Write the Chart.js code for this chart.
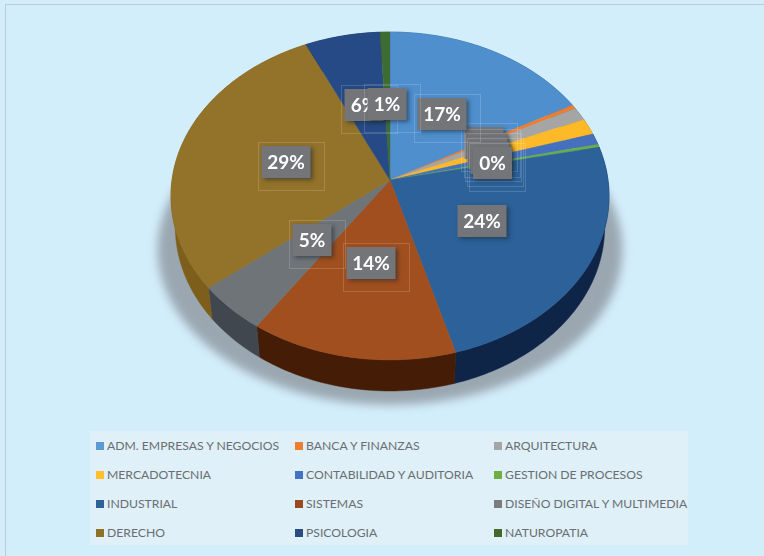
<!DOCTYPE html>
<html>
<head>
<meta charset="utf-8">
<script src="https://cdn.jsdelivr.net/npm/chart.js@4/dist/chart.umd.min.js"></script>
<style>
html,body{margin:0;padding:0;width:764px;height:556px;overflow:hidden;background:#d3eefb}
#frame{position:absolute;left:5px;top:4px;right:0;bottom:0;border-left:1px solid #c4cbd0;border-top:1px solid #c4cbd0}
canvas{position:absolute;left:0;top:0}
#legend{position:absolute;left:90px;top:431px;width:598px;height:114px;background:#dff0f8;font:12.2px Lato,sans-serif;color:#6a6e72}
#legend div{position:absolute;white-space:nowrap;line-height:16px}
#legend i{position:absolute;left:-11px;top:4px;width:8px;height:8px}
</style>
</head>
<body>
<div id="frame"></div>
<div style="position:absolute;left:0;top:0;width:764px;height:556px"><canvas id="c" width="764" height="556"></canvas></div>
<div id="legend"></div>
<script>
const categories = ["ADM. EMPRESAS Y NEGOCIOS","BANCA Y FINANZAS","ARQUITECTURA","MERCADOTECNIA","CONTABILIDAD Y AUDITORIA","GESTION DE PROCESOS","INDUSTRIAL","SISTEMAS","DISEÑO DIGITAL Y MULTIMEDIA","DERECHO","PSICOLOGIA","NATUROPATIA"];
const values = [17.0,0.4,1.3,1.6,1.1,0.3,23.9,13.9,4.8,28.8,6.1,0.8];
const valueLabels = ["17%","0%","0%","0%","0%","0%","24%","14%","5%","29%","6%","1%"];
const topColors = ["#4f8fcd","#ed7d31","#a5a5a5","#fdb927","#4470bd","#66ad4f","#2c6199","#a14f1f","#6f7479","#93722a","#264a85","#3f6b35"];
const swatchColors = ["#5b9bd5","#ed7d31","#a5a5a5","#ffc02a","#4472c4","#70ad47","#2d6498","#9a4a20","#7b7b7d","#8f7027","#2a4a80","#43682b"];
const wallColors = ["#2d5a88","#8a4a1c","#666666","#9a7015","#1c3a70","#3a6428","#0f2548","#451c05","#40474f","#7d5e1a","#16294f","#22381c"];

// label placement relative to the pie centre (layout only)
const labelOffsets = [[52,-66],[94,-37],[97,-31],[98,-27],[100,-22],[102.5,-17],[92,41],[-19,83],[-78,60],[-104,-18],[-26,-75],[-3,-76]];

const perspective = 32/328;          // foreshortening of the tilted disc
const rxRatio = 218/148, ryRatio = 162.4/148, depthRatio = 31/148;

function project(arc, theta, shrink){
  const R = arc.outerRadius;
  const u = Math.sin(theta), v = -Math.cos(theta);
  const w = 1 - perspective*v;
  const s = shrink ? 0.98 : 1;
  return {x: arc.x + s*rxRatio*R*u/w, y: arc.y + ryRatio*R*v/w + (shrink ? depthRatio*R : 0)};
}
function edgePoints(arc, a0, a1, shrink){
  const n = Math.max(2, Math.ceil((a1-a0)/0.02)), pts=[];
  for(let i=0;i<=n;i++){ pts.push(project(arc, a0+(a1-a0)*i/n + Math.PI/2, shrink)); }
  return pts;
}
const tiltedPie = {
  id:'tiltedPie',
  beforeDatasetDraw(chart){
    const ctx = chart.ctx, arcs = chart.getDatasetMeta(0).data;
    const R = arcs[0].outerRadius;
    // soft shadow below the disc
    ctx.save();
    ctx.filter = 'blur(5px)';
    ctx.fillStyle = '#9aa7b1';
    ctx.beginPath();
    ctx.ellipse(arcs[0].x, arcs[0].y + 0.47*R, 1.57*R, 1.05*R, 0, 0, Math.PI*2);
    ctx.fill();
    ctx.restore();
    // walls
    arcs.forEach((arc,i)=>{
      const top = edgePoints(arc, arc.startAngle, arc.endAngle, false);
      const low = edgePoints(arc, arc.startAngle, arc.endAngle, true).reverse();
      ctx.fillStyle = wallColors[i]; ctx.strokeStyle = wallColors[i]; ctx.lineWidth = .5;
      ctx.beginPath();
      top.concat(low).forEach((p,k)=> k?ctx.lineTo(p.x,p.y):ctx.moveTo(p.x,p.y));
      ctx.closePath(); ctx.fill(); ctx.stroke();
    });
    // top faces
    arcs.forEach((arc,i)=>{
      const pts = edgePoints(arc, arc.startAngle, arc.endAngle, false);
      ctx.fillStyle = topColors[i]; ctx.strokeStyle = topColors[i]; ctx.lineWidth = .4;
      ctx.beginPath(); ctx.moveTo(arc.x, arc.y);
      pts.forEach(p=>ctx.lineTo(p.x,p.y));
      ctx.closePath(); ctx.fill(); ctx.stroke();
    });
    return false;
  },
  afterDatasetsDraw(chart){
    const ctx = chart.ctx, arcs = chart.getDatasetMeta(0).data;
    const order = [1,2,3,4,5,6,7,8,9,0,10,11];
    ctx.save();
    ctx.textAlign='center'; ctx.textBaseline='middle';
    ctx.font = 'bold 19px Lato, sans-serif';
    order.forEach(i=>{
      const x = arcs[i].x + labelOffsets[i][0], y = arcs[i].y + labelOffsets[i][1];
      const t = valueLabels[i], w = t.length>2 ? 49 : 39, h = 32;
      if(i!==6){
        ctx.strokeStyle='rgba(255,255,255,.16)'; ctx.lineWidth=1;
        ctx.strokeRect(Math.round(x-w/2-4)+.5, Math.round(y-h/2-4)+.5, w+17, h+16);
      }
      ctx.shadowColor='rgba(30,40,50,.55)'; ctx.shadowBlur=4; ctx.shadowOffsetX=2; ctx.shadowOffsetY=2;
      ctx.fillStyle='#747579';
      ctx.fillRect(x-w/2, y-h/2, w, h);
      ctx.shadowColor='transparent'; ctx.shadowBlur=0; ctx.shadowOffsetX=0; ctx.shadowOffsetY=0;
      ctx.fillStyle='#ffffff';
      ctx.fillText(t, x, y+.5);
    });
    ctx.restore();
  }
};

const chart = new Chart(document.getElementById('c'), {
  type:'pie',
  data:{labels:categories, datasets:[{data:values, backgroundColor:topColors, borderWidth:0}]},
  options:{
    responsive:false, animation:false,
    rotation:0,
    layout:{padding:{top:32,bottom:228,left:242,right:226}},
    plugins:{legend:{display:false},tooltip:{enabled:false}}
  },
  plugins:[tiltedPie]
});

const legend = document.getElementById('legend');
const colX = [17,216,415], rowY = [7,36,65,94];
categories.forEach((name,i)=>{
  const d = document.createElement('div');
  d.style.left = colX[i%3]+'px'; d.style.top = rowY[Math.floor(i/3)]+'px';
  const sw = document.createElement('i'); sw.style.background = swatchColors[i];
  d.appendChild(sw); d.appendChild(document.createTextNode(name));
  legend.appendChild(d);
});
</script>
</body>
</html>
